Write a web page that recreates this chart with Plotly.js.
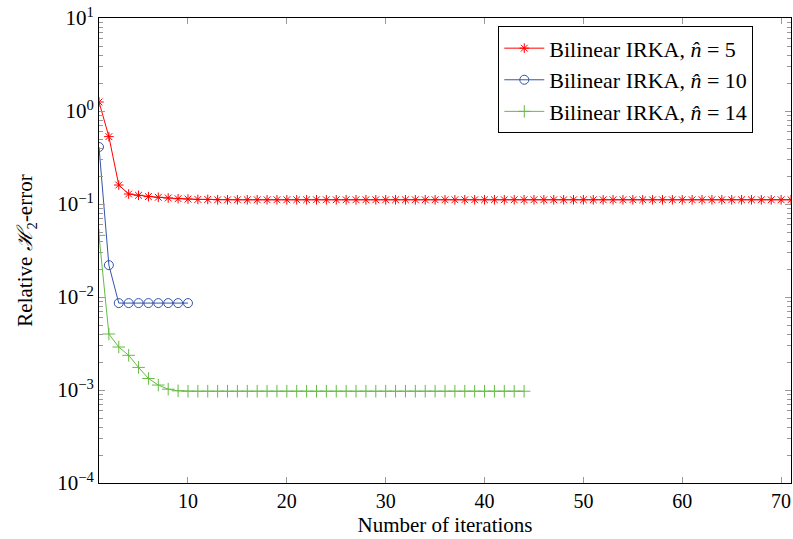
<!DOCTYPE html>
<html><head><meta charset="utf-8">
<script src="https://cdn.plot.ly/plotly-3.0.1.min.js"></script>
<style>body{margin:0;background:#fff}#chart{width:793px;height:539px}</style>
</head><body><div id="chart"></div>
<script>
// Series n̂ = 5 (iterations 1..71)
const iterRed = Array.from({length:71},(_,i)=>i+1);
const errRed = [1.25,0.53,0.16,0.128,0.124,0.120,0.118,0.116,0.114,0.113,0.112,0.112,0.111,0.111,0.111,0.111,0.111,0.111,0.111,0.111,
0.111,0.111,0.111,0.111,0.111,0.111,0.111,0.111,0.111,0.111,0.111,0.111,0.111,0.111,0.111,0.111,0.111,0.111,0.111,0.111,
0.111,0.111,0.111,0.111,0.111,0.111,0.111,0.111,0.111,0.111,0.111,0.111,0.111,0.111,0.111,0.111,0.111,0.111,0.111,0.111,
0.111,0.111,0.111,0.111,0.111,0.111,0.111,0.111,0.111,0.111,0.111];
// Series n̂ = 10 (iterations 1..10)
const iterBlue = [1,2,3,4,5,6,7,8,9,10];
const errBlue = [0.41,0.022,0.0086,0.0086,0.0086,0.0086,0.0086,0.0086,0.0086,0.0086];
// Series n̂ = 14 (iterations 1..44)
const iterGreen = Array.from({length:44},(_,i)=>i+1);
const errGreen = [0.046,0.0040,0.0029,0.00236,0.00175,0.00133,0.00113,0.00102,0.00098,0.00097,
0.00097,0.00097,0.00097,0.00097,0.00097,0.00097,0.00097,0.00097,0.00097,0.00097,
0.00097,0.00097,0.00097,0.00097,0.00097,0.00097,0.00097,0.00097,0.00097,0.00097,
0.00097,0.00097,0.00097,0.00097,0.00097,0.00097,0.00097,0.00097,0.00097,0.00097,
0.00097,0.00097,0.00097,0.00097];
const seriesNames = ['Bilinear IRKA, <i>n̂</i> = 5','Bilinear IRKA, <i>n̂</i> = 10','Bilinear IRKA, <i>n̂</i> = 14'];
const yTickVals = [1e-4,1e-3,1e-2,1e-1,1e0,1e1];
const yTickText = ['10<sup>−4</sup>','10<sup>−3</sup>','10<sup>−2</sup>','10<sup>−1</sup>','10<sup>0</sup>','10<sup>1</sup>'];
const xTickVals = [10,20,30,40,50,60,70];
const yMinorVals = [];
for (let e=-4;e<1;e++) for (let m=2;m<10;m++) yMinorVals.push(m*Math.pow(10,e));

const font = "'Liberation Serif', 'DejaVu Serif', serif";
const traces = [
 {x:iterRed,y:errRed,name:seriesNames[0],mode:'lines+markers',
  line:{color:'#ff0000',width:1},marker:{symbol:'asterisk-open',size:8,color:'#ff0000',line:{color:'#ff0000',width:1}}},
 {x:iterBlue,y:errBlue,name:seriesNames[1],mode:'lines+markers',
  line:{color:'#3355aa',width:1},marker:{symbol:'circle-open',size:9,color:'#3355aa',line:{color:'#3355aa',width:1}}},
 {x:iterGreen,y:errGreen,name:seriesNames[2],mode:'lines+markers',
  line:{color:'#66bb44',width:1},marker:{symbol:'cross-thin-open',size:9,color:'#66bb44',line:{color:'#66bb44',width:1}}}
];
const layout = {
 width:793,height:539,
 margin:{l:99,r:2,t:18,b:56},
 paper_bgcolor:'#fff',plot_bgcolor:'#fff',
 font:{family:font,size:20,color:'#000'},
 showlegend:true,
 legend:{x:0.577,y:0.982,xanchor:'left',yanchor:'top',bgcolor:'#fff',bordercolor:'#000',borderwidth:1,
   font:{family:font,size:22},tracegroupgap:0,itemwidth:40},
 xaxis:{range:[1,71],showgrid:false,zeroline:false,showline:true,linecolor:'#000',linewidth:1,mirror:'allticks',
   ticks:'inside',ticklen:6,tickcolor:'#999',tickvals:xTickVals,tickfont:{family:font,size:20},
   title:{text:'Number of iterations',font:{family:font,size:21},standoff:6}},
 yaxis:{type:'log',range:[-4,1],showgrid:false,zeroline:false,showline:true,linecolor:'#000',linewidth:1,mirror:'allticks',
   ticks:'inside',ticklen:6,tickcolor:'#999',tickvals:yTickVals,ticktext:yTickText,tickfont:{family:font,size:21},
   minor:{ticks:'inside',ticklen:4,tickcolor:'#999',tickvals:yMinorVals,showgrid:false},
   title:{text:'Relative <i>ℋ</i><sub>2</sub>-error',font:{family:font,size:21},standoff:18}}
};
Plotly.newPlot('chart',traces,layout,{displayModeBar:false,staticPlot:true});
</script></body></html>
